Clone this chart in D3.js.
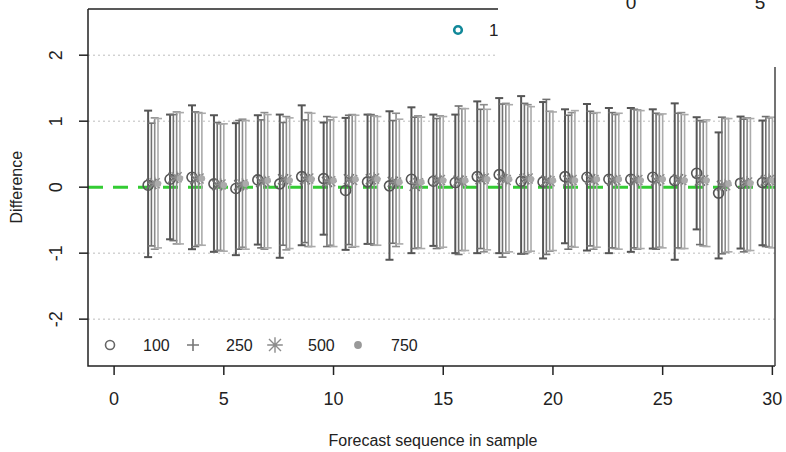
<!DOCTYPE html>
<html>
<head>
<meta charset="utf-8">
<script src="https://cdn.jsdelivr.net/npm/d3@7"></script>
<style>
  body { margin: 0; background: #fff; }
  svg text { font-family: "Liberation Sans", Arial, sans-serif; fill: #222; }
</style>
</head>
<body>
<svg id="chart" width="786" height="452"></svg>
<script>
// sample sizes shown in the legend
const sizes = ['100', '250', '500', '750'];
// forecast sequence 1..29
const seq = d3.range(1, 30);

// series 100
const mid100 = [0.03, 0.12, 0.15, 0.05, -0.02, 0.11, 0.05, 0.16, 0.13, -0.05, 0.08, 0.02, 0.12, 0.09, 0.07, 0.16, 0.19, 0.09, 0.08, 0.16, 0.15, 0.12, 0.12, 0.15, 0.10, 0.21, -0.09, 0.06, 0.07];
const hi100 = [1.16, 1.10, 1.24, 1.09, 0.97, 1.09, 1.10, 1.24, 0.98, 1.05, 1.10, 1.15, 1.21, 1.10, 1.10, 1.30, 1.35, 1.38, 1.29, 1.18, 1.26, 1.20, 1.20, 1.18, 1.27, 1.06, 0.83, 1.07, 1.01];
const lo100 = [-1.06, -0.79, -0.94, -0.98, -1.03, -0.87, -1.07, -0.88, -0.72, -0.95, -0.86, -1.10, -1.00, -0.89, -1.00, -1.00, -1.00, -1.01, -1.08, -0.85, -0.96, -1.00, -0.98, -0.93, -1.10, -0.64, -1.08, -0.93, -0.88];
// series 250
const mid250 = [0.05, 0.14, 0.12, 0.03, 0.03, 0.08, 0.12, 0.12, 0.08, 0.12, 0.12, 0.08, 0.02, 0.10, 0.10, 0.12, 0.12, 0.12, 0.10, 0.10, 0.12, 0.10, 0.10, 0.10, 0.12, 0.10, 0.02, 0.06, 0.10];
const hi250 = [0.97, 1.10, 1.14, 0.98, 1.01, 1.02, 0.98, 1.02, 1.07, 1.09, 1.10, 1.01, 1.06, 1.04, 1.23, 1.18, 1.26, 1.27, 1.33, 1.09, 1.15, 1.13, 1.18, 1.12, 1.12, 1.01, 1.06, 1.03, 1.07];
const lo250 = [-0.89, -0.81, -0.90, -0.96, -0.94, -0.92, -0.88, -0.84, -0.90, -0.87, -0.86, -0.85, -0.93, -0.93, -1.02, -0.93, -1.06, -1.01, -1.02, -0.94, -0.89, -0.92, -0.92, -0.94, -0.92, -0.87, -1.01, -0.98, -0.90];
// series 500
const mid500 = [0.06, 0.15, 0.13, 0.04, 0.04, 0.09, 0.11, 0.13, 0.09, 0.11, 0.13, 0.07, 0.06, 0.11, 0.09, 0.13, 0.11, 0.13, 0.09, 0.11, 0.11, 0.11, 0.11, 0.12, 0.11, 0.11, 0.03, 0.07, 0.11];
const hi500 = [1.05, 1.14, 1.13, 0.96, 1.03, 1.13, 1.07, 1.13, 1.02, 1.10, 1.08, 1.12, 1.08, 1.08, 1.19, 1.25, 1.27, 1.25, 1.15, 1.13, 1.12, 1.10, 1.17, 1.10, 1.13, 0.99, 1.04, 1.05, 1.05];
const lo500 = [-0.94, -0.86, -0.88, -0.96, -0.91, -0.94, -0.95, -0.90, -0.88, -0.91, -0.88, -0.90, -0.92, -0.92, -0.96, -0.98, -1.00, -0.98, -0.97, -0.90, -0.94, -0.93, -0.94, -0.91, -0.93, -0.89, -0.99, -0.96, -0.91];
// series 750
const mid750 = [0.05, 0.13, 0.13, 0.03, 0.05, 0.10, 0.10, 0.12, 0.10, 0.12, 0.12, 0.08, 0.08, 0.10, 0.10, 0.12, 0.12, 0.12, 0.10, 0.10, 0.12, 0.12, 0.10, 0.12, 0.10, 0.10, 0.05, 0.06, 0.10];
const hi750 = [1.04, 1.13, 1.12, 0.96, 1.01, 1.10, 1.05, 1.12, 1.06, 1.09, 1.07, 1.03, 1.06, 1.07, 1.19, 1.18, 1.25, 1.22, 1.14, 1.16, 1.13, 1.12, 1.16, 1.11, 1.10, 1.02, 1.04, 1.04, 1.06];
const lo750 = [-0.92, -0.86, -0.88, -0.97, -0.94, -0.92, -0.93, -0.90, -0.90, -0.90, -0.88, -0.86, -0.93, -0.91, -0.96, -0.95, -0.98, -0.97, -0.96, -0.91, -0.91, -0.94, -0.93, -0.92, -0.93, -0.90, -0.98, -0.96, -0.92];

const xTicks = [0, 5, 10, 15, 20, 25, 30];
const yTicks = [-2, -1, 0, 1, 2];

const svg = d3.select('#chart');
const pLeft = 88, pRight = 775, pTop = 9, pBottom = 366;
const x = d3.scaleLinear().domain([-1.19, 30.12]).range([pLeft, pRight]);
const y = d3.scaleLinear().domain([-2.71, 2.70]).range([pBottom, pTop]);

const series = [
    {name: '100', mid: mid100, lo: lo100, hi: hi100, off: 0.55, col: '#555', w: 2, pch: 'circle'},
    {name: '250', mid: mid250, lo: lo250, hi: hi250, off: 0.70, col: '#707070', w: 1.6, pch: 'x'},
    {name: '500', mid: mid500, lo: lo500, hi: hi500, off: 0.85, col: '#8c8c8c', w: 1.6, pch: 'star'},
    {name: '750', mid: mid750, lo: lo750, hi: hi750, off: 1.00, col: '#ababab', w: 1.6, pch: 'dot'}
];

svg.append('clipPath').attr('id', 'plotclip')
    .append('rect').attr('x', pLeft).attr('y', pTop)
    .attr('width', pRight - pLeft).attr('height', pBottom - pTop);

const plot = svg.append('g').attr('clip-path', 'url(#plotclip)');

// grid
plot.selectAll('.grid')
    .data(yTicks.filter(d => d !== 0))
    .enter().append('line')
    .attr('x1', pLeft).attr('x2', pRight)
    .attr('y1', d => y(d)).attr('y2', d => y(d))
    .attr('stroke', '#bdbdbd').attr('stroke-width', 1)
    .attr('stroke-dasharray', '2,3');

// zero reference
plot.append('line')
    .attr('x1', pLeft).attr('x2', pRight)
    .attr('y1', y(0)).attr('y2', y(0))
    .attr('stroke', '#33cc33').attr('stroke-width', 3)
    .attr('stroke-dasharray', '15,10');

function marker(g, pch, col, r) {
    if (pch === 'circle') {
        g.append('circle').attr('r', r).attr('fill', 'none')
            .attr('stroke', col).attr('stroke-width', 1.6);
    } else if (pch === 'x') {
        g.append('path').attr('d', `M${-r},${-r}L${r},${r}M${-r},${r}L${r},${-r}`)
            .attr('stroke', col).attr('stroke-width', 1.6);
    } else if (pch === 'plus') {
        g.append('path').attr('d', `M${-r},0L${r},0M0,${-r}L0,${r}`)
            .attr('stroke', col).attr('stroke-width', 1.6);
    } else if (pch === 'star') {
        g.append('path').attr('d', `M${-r},${-r}L${r},${r}M${-r},${r}L${r},${-r}M${-r * 1.3},0L${r * 1.3},0M0,${-r * 1.3}L0,${r * 1.3}`)
            .attr('stroke', col).attr('stroke-width', 1.4);
    } else {
        g.append('circle').attr('r', r * 0.65).attr('fill', col);
    }
}

// error bars
series.forEach(function (s) {
    const bars = plot.append('g').selectAll('g')
        .data(seq).enter().append('g');
    bars.append('line')
        .attr('x1', d => x(d + s.off)).attr('x2', d => x(d + s.off))
        .attr('y1', (d, i) => y(s.lo[i])).attr('y2', (d, i) => y(s.hi[i]))
        .attr('stroke', s.col).attr('stroke-width', s.w);
    ['lo', 'hi'].forEach(function (k) {
        bars.append('line')
            .attr('x1', d => x(d + s.off) - 4).attr('x2', d => x(d + s.off) + 4)
            .attr('y1', (d, i) => y(s[k][i])).attr('y2', (d, i) => y(s[k][i]))
            .attr('stroke', s.col).attr('stroke-width', s.w);
    });
});

// point estimates
series.forEach(function (s) {
    plot.append('g').selectAll('g')
        .data(seq).enter().append('g')
        .attr('transform', (d, i) => 'translate(' + x(d + s.off) + ',' + y(s.mid[i]) + ')')
        .each(function () { marker(d3.select(this), s.pch, s.col, 5); });
});

// legend
const legX = [110, 193, 275, 358];
const legCol = ['#666', '#777', '#8c8c8c', '#999'];
const legPch = ['circle', 'plus', 'star', 'dot'];
sizes.forEach(function (n, i) {
    const g = svg.append('g').attr('transform', 'translate(' + legX[i] + ',345)');
    marker(g, legPch[i], legCol[i], i === 0 ? 4.5 : 6);
    svg.append('text').attr('x', legX[i] + 33).attr('y', 351)
        .style('font-size', '16px').text(n);
});

// frame
svg.append('path')
    .attr('d', `M${pLeft},${pTop}L${pLeft},${pBottom}L${pRight},${pBottom}`)
    .attr('fill', 'none').attr('stroke', '#222').attr('stroke-width', 1.5);
svg.append('line').attr('x1', pLeft).attr('x2', 498).attr('y1', pTop).attr('y2', pTop)
    .attr('stroke', '#222').attr('stroke-width', 1.5);

// axes
svg.selectAll('.xt').data(xTicks).enter().append('line')
    .attr('x1', d => x(d)).attr('x2', d => x(d))
    .attr('y1', pBottom).attr('y2', pBottom + 9)
    .attr('stroke', '#222').attr('stroke-width', 1.5);
svg.selectAll('.xl').data(xTicks).enter().append('text')
    .attr('x', d => x(d)).attr('y', 405)
    .attr('text-anchor', 'middle').style('font-size', '18px')
    .text(d => d);
svg.selectAll('.yt').data(yTicks).enter().append('line')
    .attr('x1', pLeft - 9).attr('x2', pLeft)
    .attr('y1', d => y(d)).attr('y2', d => y(d))
    .attr('stroke', '#222').attr('stroke-width', 1.5);
svg.selectAll('.yl').data(yTicks).enter().append('text')
    .attr('transform', d => 'translate(62,' + y(d) + ') rotate(-90)')
    .attr('text-anchor', 'middle').style('font-size', '18px')
    .text(d => d);

svg.append('text').attr('x', 433).attr('y', 446)
    .attr('text-anchor', 'middle').style('font-size', '16px')
    .text('Forecast sequence in sample');
svg.append('text').attr('transform', 'translate(22,' + y(0) + ') rotate(-90)')
    .attr('text-anchor', 'middle').style('font-size', '16px')
    .text('Difference');

// overlapping piece of another figure (top right)
svg.append('circle').attr('cx', 458).attr('cy', 30).attr('r', 3.8)
    .attr('fill', 'none').attr('stroke', '#118899').attr('stroke-width', 2.6);
svg.append('text').attr('x', 489).attr('y', 36).style('font-size', '17px').text('1');
svg.append('rect').attr('x', 498).attr('y', 0).attr('width', 288).attr('height', 67)
    .attr('fill', '#fff');
svg.append('text').attr('x', 631).attr('y', 9).attr('text-anchor', 'middle')
    .style('font-size', '19px').text('0');
svg.append('text').attr('x', 760).attr('y', 9).attr('text-anchor', 'middle')
    .style('font-size', '19px').text('5');
svg.append('line').attr('x1', 775).attr('x2', 775).attr('y1', 67).attr('y2', pBottom)
    .attr('stroke', '#444').attr('stroke-width', 1.5);
</script>
</body>
</html>
